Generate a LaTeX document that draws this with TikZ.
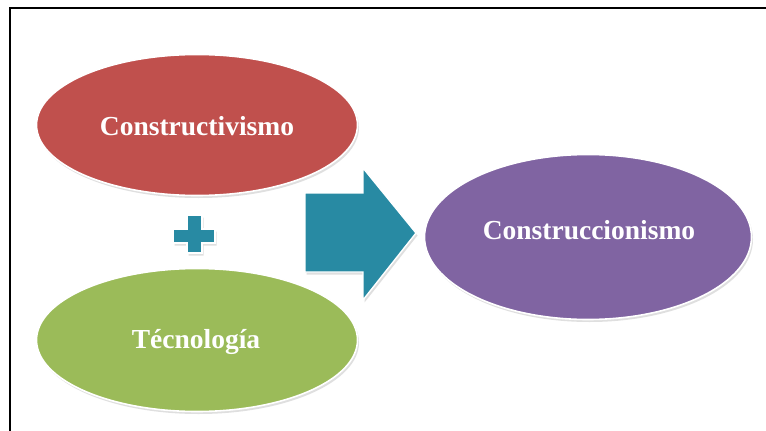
\documentclass[tikz,border=0pt]{standalone}
\usepackage{fontspec}
\setmainfont{Liberation Serif}
\usetikzlibrary{shapes.geometric,shadows}
\definecolor{redfill}{RGB}{192,80,77}
\definecolor{greenfill}{RGB}{155,187,89}
\definecolor{purplefill}{RGB}{128,100,162}
\definecolor{tealfill}{RGB}{40,138,163}
\tikzset{
  bubble/.style={ellipse, draw=white, line width=1.6pt, inner sep=0pt,
    drop shadow={opacity=0.25, shadow xshift=1.5pt, shadow yshift=-2.5pt}},
  label text/.style={text=white, font=\bfseries\fontsize{27.5}{30}\selectfont},
  tealshape/.style={fill=tealfill, draw=white, line width=1.4pt,
    drop shadow={opacity=0.25, shadow xshift=1.5pt, shadow yshift=-2.5pt}},
  frameline/.style={line width=2pt, black}
}
\begin{document}
\begin{tikzpicture}[x=1pt,y=-1pt]
  \useasboundingbox (0,0) rectangle (766,431);
  \fill[white] (0,0) rectangle (766,431);
  % frame
  \draw[frameline] (10,431) -- (10,7.5) -- (766,7.5);
  % ellipses
  \node[bubble, fill=redfill, minimum width=321pt, minimum height=141pt] (cvm) at (197,125) {};
  \node[bubble, fill=greenfill, minimum width=321pt, minimum height=143pt] (tec) at (197,340) {};
  \node[bubble, fill=purplefill, minimum width=327pt, minimum height=165pt] (ccm) at (588,237) {};
  \node[label text] (cvmlabel) at (197,126) {Constructivismo};
  \node[label text] (teclabel) at (196,342) {Técnología};
  \node[label text] (ccmlabel) at (589,230) {Construccionismo};
  % plus sign
  \path[tealshape] (187,215) -- (202,215) -- (202,229) -- (215,229) -- (215,243) -- (202,243)
     -- (202,253) -- (187,253) -- (187,243) -- (173,243) -- (173,229) -- (187,229) -- cycle;
  % block arrow
  \path[tealshape] (305,193) -- (363,193) -- (363,168) -- (416,233) -- (363,300)
     -- (363,272) -- (305,272) -- cycle;
\end{tikzpicture}
\end{document}
